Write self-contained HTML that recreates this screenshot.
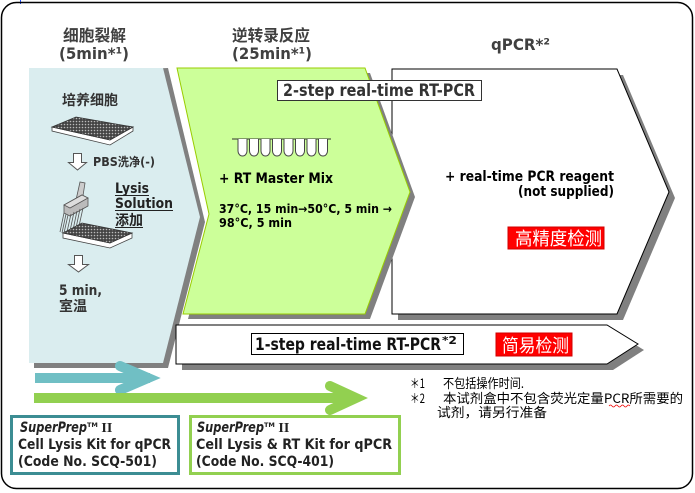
<!DOCTYPE html>
<html><head><meta charset="utf-8"><style>
html,body{margin:0;padding:0;background:#fff;}
svg{display:block;}
.b{font-family:"DejaVu Sans","Noto Sans CJK SC",sans-serif;font-weight:bold;}
.c{font-family:"Noto Sans CJK SC","DejaVu Sans",sans-serif;}
</style></head><body>
<svg width="695" height="493" viewBox="0 0 695 493" xmlns="http://www.w3.org/2000/svg">
<defs>
<pattern id="dots" width="3" height="3" patternUnits="userSpaceOnUse">
<rect width="3" height="3" fill="#444"/><circle cx="1.5" cy="1.5" r="0.8" fill="#bbb"/>
</pattern>
</defs>
<rect width="695" height="493" fill="#fff"/>
<line x1="20.5" y1="0" x2="20.5" y2="4" stroke="#2050ff" stroke-width="1"/>
<rect x="1.5" y="2.5" width="691" height="486" rx="15" ry="15" fill="none" stroke="#000" stroke-width="1.5"/>

<!-- headings -->
<text class="b" x="63" y="41" font-size="16" fill="#404040" textLength="63" lengthAdjust="spacingAndGlyphs">细胞裂解</text>
<text class="b" x="59" y="59" font-size="16" fill="#404040" textLength="70" lengthAdjust="spacingAndGlyphs">(5min*¹)</text>
<text class="b" x="232" y="41" font-size="16" fill="#404040" textLength="78" lengthAdjust="spacingAndGlyphs">逆转录反应</text>
<text class="b" x="232" y="59" font-size="16" fill="#404040" textLength="80" lengthAdjust="spacingAndGlyphs">(25min*¹)</text>
<text class="b" x="491" y="50" font-size="16" fill="#404040" textLength="59" lengthAdjust="spacingAndGlyphs">qPCR*²</text>

<!-- qPCR white chevron -->
<polygon points="398,75 623,75 675,198 623,320 398,320" fill="#808080"/>
<polygon points="392,69 617,69 669,192 617,314 392,314" fill="#fff" stroke="#000" stroke-width="1"/>

<!-- green chevron -->
<polygon points="182,73 370,73 415,197 370,319 188,319 214,219" fill="#808080"/>
<polygon points="177,68 365,68 410,192 365,314 183,314 209,214" fill="#ccff99" stroke="#99cc00" stroke-width="1"/>

<!-- blue chevron -->
<polygon points="34,73 168,68 205,222 168,368 34,368" fill="#808080"/>
<polygon points="29,68 163,68 200,217 163,363 29,363" fill="#daedef"/>

<!-- 2-step label -->
<rect x="277.5" y="80.5" width="204" height="20" fill="#fff" stroke="#333" stroke-width="1"/>
<text class="b" x="283" y="96" font-size="17" fill="#333" textLength="192" lengthAdjust="spacingAndGlyphs">2-step real-time RT-PCR</text>

<!-- blue contents -->
<text class="b" x="62" y="105" font-size="14" fill="#333" textLength="56" lengthAdjust="spacingAndGlyphs">培养细胞</text>
<polygon points="52,127 52,131 110,145 133,131 133,127 110,140" fill="#fff" stroke="#444" stroke-width="0.8"/>
<polygon points="52,127 76,117 133,127 110,140" fill="url(#dots)" stroke="#333" stroke-width="0.8"/>
<path d="M73.5,153.5 H81.5 V162.5 H86.5 L77.5,170 L68.5,162.5 H73.5 Z" fill="#fff" stroke="#555" stroke-width="1"/>
<text class="b" x="93" y="166" font-size="12" fill="#333" textLength="62" lengthAdjust="spacingAndGlyphs">PBS洗净(-)</text>
<g stroke="#555" stroke-width="0.8">
<polygon points="76,200 80,182 85,183 82,202" fill="#ccc"/>
<polygon points="64,205 82,195 88,198 88,206 70,216 64,213" fill="#bbb"/>
<polygon points="64,205 82,195 88,198 70,208" fill="#ddd"/>
<line x1="64" y1="213" x2="60" y2="232"/><line x1="66" y1="214" x2="62" y2="233"/>
<line x1="68" y1="215" x2="64" y2="233"/><line x1="71" y1="214" x2="67" y2="232"/>
<line x1="74" y1="212" x2="70" y2="231"/><line x1="77" y1="211" x2="73" y2="230"/>
<line x1="80" y1="209" x2="76" y2="228"/><line x1="83" y1="208" x2="79" y2="226"/>
</g>
<polygon points="63,233 63,238 110,248 132,238 132,233 110,243" fill="#fff" stroke="#444" stroke-width="0.8"/>
<polygon points="63,233 82,223 132,233 110,243" fill="url(#dots)" stroke="#333" stroke-width="0.8"/>
<text class="b" x="115" y="193" font-size="14" fill="#222" textLength="34" lengthAdjust="spacingAndGlyphs">Lysis</text>
<line x1="115" y1="195.5" x2="149" y2="195.5" stroke="#222" stroke-width="1"/>
<text class="b" x="115" y="208" font-size="14" fill="#222" textLength="58" lengthAdjust="spacingAndGlyphs">Solution</text>
<line x1="115" y1="210.5" x2="173" y2="210.5" stroke="#222" stroke-width="1"/>
<text class="b" x="115" y="225" font-size="14" fill="#222" textLength="28" lengthAdjust="spacingAndGlyphs">添加</text>
<line x1="115" y1="227.5" x2="143" y2="227.5" stroke="#222" stroke-width="1"/>
<path d="M74.5,255.5 H82.5 V264.5 H88.5 L78.5,272 L68.5,264.5 H74.5 Z" fill="#fff" stroke="#555" stroke-width="1"/>
<text class="b" x="59" y="295" font-size="14" fill="#333" textLength="43" lengthAdjust="spacingAndGlyphs">5 min,</text>
<text class="b" x="59" y="311" font-size="14" fill="#333" textLength="28" lengthAdjust="spacingAndGlyphs">室温</text>

<!-- green contents -->
<line x1="232" y1="139" x2="331" y2="139" stroke="#333" stroke-width="1"/>
<g fill="#fff" stroke="#444" stroke-width="1">
<path d="M238,139 V151 a4.5,5 0 0 0 9,0 V139"/>
<path d="M249.5,139 V151 a4.5,5 0 0 0 9,0 V139"/>
<path d="M261,139 V151 a4.5,5 0 0 0 9,0 V139"/>
<path d="M272.5,139 V151 a4.5,5 0 0 0 9,0 V139"/>
<path d="M284,139 V151 a4.5,5 0 0 0 9,0 V139"/>
<path d="M295.5,139 V151 a4.5,5 0 0 0 9,0 V139"/>
<path d="M307,139 V151 a4.5,5 0 0 0 9,0 V139"/>
<path d="M318.5,139 V151 a4.5,5 0 0 0 9,0 V139"/>
</g>
<text class="b" x="219" y="183" font-size="14" fill="#000" textLength="114" lengthAdjust="spacingAndGlyphs">+ RT Master Mix</text>
<text class="b" x="219" y="213" font-size="12" fill="#000" textLength="173" lengthAdjust="spacingAndGlyphs">37°C, 15 min→50°C, 5 min →</text>
<text class="b" x="219" y="227" font-size="12" fill="#000" textLength="73" lengthAdjust="spacingAndGlyphs">98°C,  5 min</text>

<!-- white contents -->
<text class="b" x="445" y="181" font-size="14" fill="#000" textLength="169" lengthAdjust="spacingAndGlyphs">+ real-time PCR reagent</text>
<text class="b" x="518" y="196" font-size="14" fill="#000" textLength="96" lengthAdjust="spacingAndGlyphs">(not supplied)</text>
<rect x="508" y="227" width="96" height="22" fill="#ff0000" stroke="#d00000" stroke-width="1"/>
<text class="c" x="515" y="245" font-size="18" fill="#fff" textLength="87" lengthAdjust="spacingAndGlyphs">高精度检测</text>

<!-- 1-step arrow -->
<polygon points="182,331 613,331 644,350 613,370 182,370" fill="#808080"/>
<polygon points="176,325 607,325 638,344 607,364 176,364" fill="#fff" stroke="#000" stroke-width="1"/>
<rect x="251.5" y="333.5" width="212" height="21" fill="#fff" stroke="#000" stroke-width="1"/>
<text class="b" x="255" y="350" font-size="17" fill="#111" textLength="186" lengthAdjust="spacingAndGlyphs">1-step real-time RT-PCR</text>
<text class="b" x="442" y="344" font-size="11" fill="#111" textLength="15" lengthAdjust="spacingAndGlyphs">*2</text>
<rect x="496" y="333" width="76" height="23" fill="#ff0000" stroke="#d00000" stroke-width="1"/>
<text class="c" x="502" y="352" font-size="18" fill="#fff" textLength="67" lengthAdjust="spacingAndGlyphs">简易检测</text>

<!-- teal arrow -->
<rect x="35" y="373" width="115" height="10" fill="#70bfc4"/>
<path d="M120,366 L148,378 L120,390" fill="none" stroke="#70bfc4" stroke-width="10" stroke-linecap="round" stroke-linejoin="miter" stroke-miterlimit="6"/>
<!-- green arrow -->
<rect x="34" y="393" width="318" height="10" fill="#92d050"/>
<path d="M330,386 L356,398 L330,410" fill="none" stroke="#92d050" stroke-width="10" stroke-linecap="round" stroke-linejoin="miter" stroke-miterlimit="6"/>

<!-- footnotes -->
<g class="c" font-size="13" fill="#000">
<text x="410" y="388" textLength="15" lengthAdjust="spacingAndGlyphs">＊1</text>
<text x="443" y="388" textLength="81" lengthAdjust="spacingAndGlyphs">不包括操作时间.</text>
<text x="410" y="403" textLength="15" lengthAdjust="spacingAndGlyphs">＊2</text>
<text x="443" y="403" textLength="240" lengthAdjust="spacingAndGlyphs">本试剂盒中不包含荧光定量PCR所需要的</text>
<text x="437" y="417" textLength="110" lengthAdjust="spacingAndGlyphs">试剂，请另行准备</text>
</g>
<path d="M609,406 q1.5,-2 3,0 t3,0 t3,0 t3,0 t3,0 t3,0 t3,0" fill="none" stroke="#e00" stroke-width="0.7"/>

<!-- kit boxes -->
<rect x="11.5" y="416.5" width="167" height="57" fill="#fff" stroke="#3c8d93" stroke-width="3"/>
<text class="b" x="20" y="432" font-size="14" fill="#222"><tspan font-style="italic" textLength="67" lengthAdjust="spacingAndGlyphs">SuperPrep</tspan><tspan font-size="6.5" dy="-5">TM</tspan><tspan dy="5" font-family="Liberation Serif,serif"> II</tspan></text>
<text class="b" x="18" y="449" font-size="14" fill="#222" textLength="153" lengthAdjust="spacingAndGlyphs">Cell Lysis Kit for qPCR</text>
<text class="b" x="18" y="466" font-size="14" fill="#222" textLength="139" lengthAdjust="spacingAndGlyphs">(Code No. SCQ-501)</text>

<rect x="190.5" y="416.5" width="209" height="57" fill="#fff" stroke="#92d050" stroke-width="3"/>
<text class="b" x="197" y="432" font-size="14" fill="#222"><tspan font-style="italic" textLength="67" lengthAdjust="spacingAndGlyphs">SuperPrep</tspan><tspan font-size="6.5" dy="-5">TM</tspan><tspan dy="5" font-family="Liberation Serif,serif"> II</tspan></text>
<text class="b" x="196" y="449" font-size="14" fill="#222" textLength="196" lengthAdjust="spacingAndGlyphs">Cell Lysis &amp; RT Kit  for qPCR</text>
<text class="b" x="196" y="466" font-size="14" fill="#222" textLength="138" lengthAdjust="spacingAndGlyphs">(Code No. SCQ-401)</text>
</svg>
</body></html>
